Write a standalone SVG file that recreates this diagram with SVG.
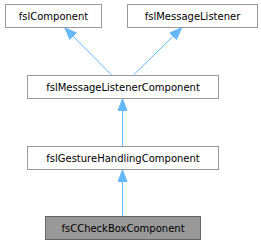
<svg xmlns="http://www.w3.org/2000/svg" width="261" height="245" viewBox="0 0 261 245">
<style>
.node rect{fill:#ffffff;stroke:#999999;stroke-width:1}
.node.cur rect{fill:#999999;stroke:#666666}
.node text{font-family:"DejaVu Sans",sans-serif;font-size:10px;fill:#000000;text-anchor:middle}
.edge{stroke:#63b8ff;stroke-width:1;fill:none;marker-end:url(#arr)}
</style>
<defs>
<marker id="arr" markerUnits="userSpaceOnUse" markerWidth="14" markerHeight="12" refX="12" refY="5" orient="auto">
<path d="M0.5,0.5 L12,5 L0.5,9.5 z" fill="#63b8ff" stroke="#63b8ff" stroke-width="1"/>
</marker>
</defs>
<rect width="261" height="245" fill="#ffffff"/>
<g id="connectors">
<path class="edge" d="M111.5,75 L65,28"/>
<path class="edge" d="M133.5,75 L181.5,28"/>
<path class="edge" d="M122.5,146 L122.5,99"/>
<path class="edge" d="M122.5,216 L122.5,170"/>
</g>
<g id="fslComponent" class="node">
<rect x="5.5" y="4.5" width="96" height="23"/>
<text x="53.5" y="19.5">fslComponent</text>
</g>
<g id="fslMessageListener" class="node">
<rect x="127.5" y="4.5" width="130" height="23"/>
<text x="192.5" y="19.5">fslMessageListener</text>
</g>
<g id="fslMessageListenerComponent" class="node">
<rect x="27.5" y="75.5" width="191" height="23"/>
<text x="123" y="90.5">fslMessageListenerComponent</text>
</g>
<g id="fslGestureHandlingComponent" class="node">
<rect x="27.5" y="146.5" width="191" height="23"/>
<text x="123" y="161.5">fslGestureHandlingComponent</text>
</g>
<g id="fsCCheckBoxComponent" class="node cur">
<rect x="45.5" y="216.5" width="155" height="23"/>
<text x="123" y="231.5">fsCCheckBoxComponent</text>
</g>
</svg>
